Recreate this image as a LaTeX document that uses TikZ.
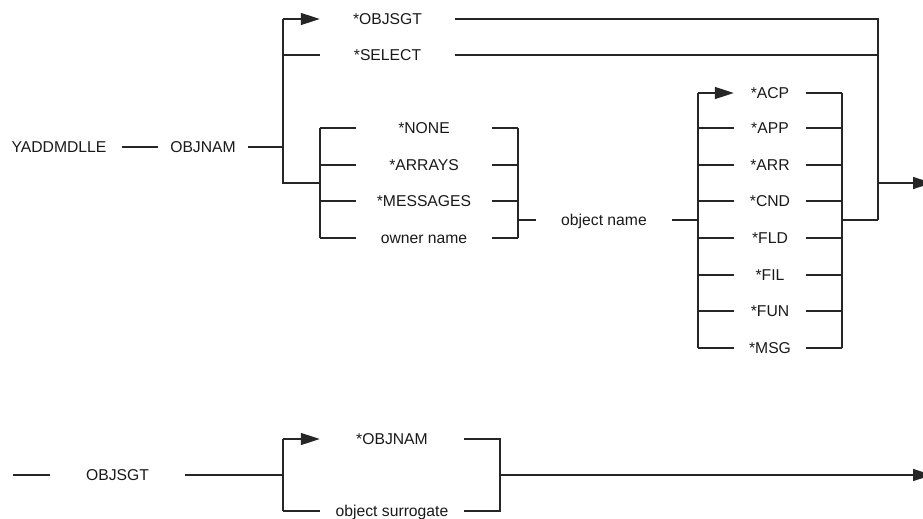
\documentclass[tikz,border=0pt]{standalone}
\usepackage{fontspec}
\setmainfont{Liberation Sans}
\usetikzlibrary{arrows.meta}

\begin{document}
\begin{tikzpicture}[x=1pt,y=-1pt,
		line/.style={draw=black!85, line width=1.4pt},
		arr/.style={line, -{Triangle[length=19pt,width=12pt]}},
		term/.style={inner sep=0pt, text height=11.3pt, text depth=0pt,
			font=\fontsize{15.7}{18}\selectfont, text=black!90}]
			\useasboundingbox (0,0) rectangle (923,519);
			% main row
			\node[term, minimum width=126pt] (yad) at (59,147) {YADDMDLLE};
			\node[term, minimum width=90pt] (nam) at (203,147) {OBJNAM};
			\node[term, minimum width=135pt] (objsgt) at (387.5,19) {*OBJSGT};
			\node[term, minimum width=135pt] (select) at (387.5,55) {*SELECT};
			\foreach \name/\txt/\y in {none/*NONE/128, arrays/*ARRAYS/165, msgs/*MESSAGES/201, owner/owner name/238}
				\node[term, minimum width=136pt] (\name) at (424,\y) {\txt};
			\node[term, minimum width=136pt] (oname) at (604,220) {object name};
			\foreach \name/\txt/\y in {acp/*ACP/93, app/*APP/128, arr/*ARR/165, cnd/*CND/201, fld/*FLD/238, fil/*FIL/275, fun/*FUN/311, msg/*MSG/348}
				\node[term, minimum width=72pt] (\name) at (770,\y) {\txt};
			% junctions
			\coordinate (sp) at (283,147);
			\coordinate (up) at (283,19);
			\coordinate (dn) at (283,183);
			\coordinate (ql) at (320,183);
			\coordinate (qr) at (518,220);
			\coordinate (kl) at (698,220);
			\coordinate (kr) at (842,220);
			\coordinate (jn) at (878,220);
			\coordinate (out) at (932,183);
			\draw[line] (yad.east) -- (nam.west);
			\draw[line] (nam.east) -- (sp);
			\draw[line] (up) -- (dn) -- (ql);
			\draw[arr] (up) -- (objsgt.west);
			\draw[line] (select.west -| up) -- (select.west);
			\draw[line] (ql |- none) -- (ql |- owner);
			\draw[line] (qr |- none) -- (qr |- owner);
			\foreach \n in {none,arrays,msgs,owner} {
				\draw[line] (ql |- \n) -- (\n.west);
				\draw[line] (\n.east) -- (qr |- \n);
			}
			\draw[line] (qr) -- (oname.west);
			\draw[line] (oname.east) -- (kl);
			\draw[line] (kl |- acp) -- (kl |- msg);
			\draw[line] (kr |- acp) -- (kr |- msg);
			\draw[arr] (kl |- acp) -- (acp.west);
			\foreach \n in {app,arr,cnd,fld,fil,fun,msg}
				\draw[line] (kl |- \n) -- (\n.west);
			\foreach \n in {acp,app,arr,cnd,fld,fil,fun,msg}
				\draw[line] (\n.east) -- (kr |- \n);
			\draw[line] (kr) -- (jn);
			\draw[line] (objsgt.east) -- (objsgt.east -| jn) -- (jn);
			\draw[line] (select.east) -- (select.east -| jn);
			\draw[arr] (jn |- out) -- (out);
			% second row
			\node[term, minimum width=135pt] (sgt) at (117.5,475) {OBJSGT};
			\node[term, minimum width=144pt] (onam) at (392,439) {*OBJNAM};
			\node[term, minimum width=144pt] (surr) at (392,511) {object surrogate};
			\coordinate (st) at (13,475);
			\coordinate (bl) at (283,475);
			\coordinate (br) at (500,475);
			\coordinate (end) at (932,475);
			\draw[line] (st) -- (sgt.west);
			\draw[line] (sgt.east) -- (bl);
			\draw[line] (bl |- onam) -- (bl |- surr);
			\draw[arr] (bl |- onam) -- (onam.west);
			\draw[line] (bl |- surr) -- (surr.west);
			\draw[line] (onam.east) -- (br |- onam) -- (br |- surr) -- (surr.east);
			\draw[arr] (br) -- (end);
		\end{tikzpicture}
\end{document}
